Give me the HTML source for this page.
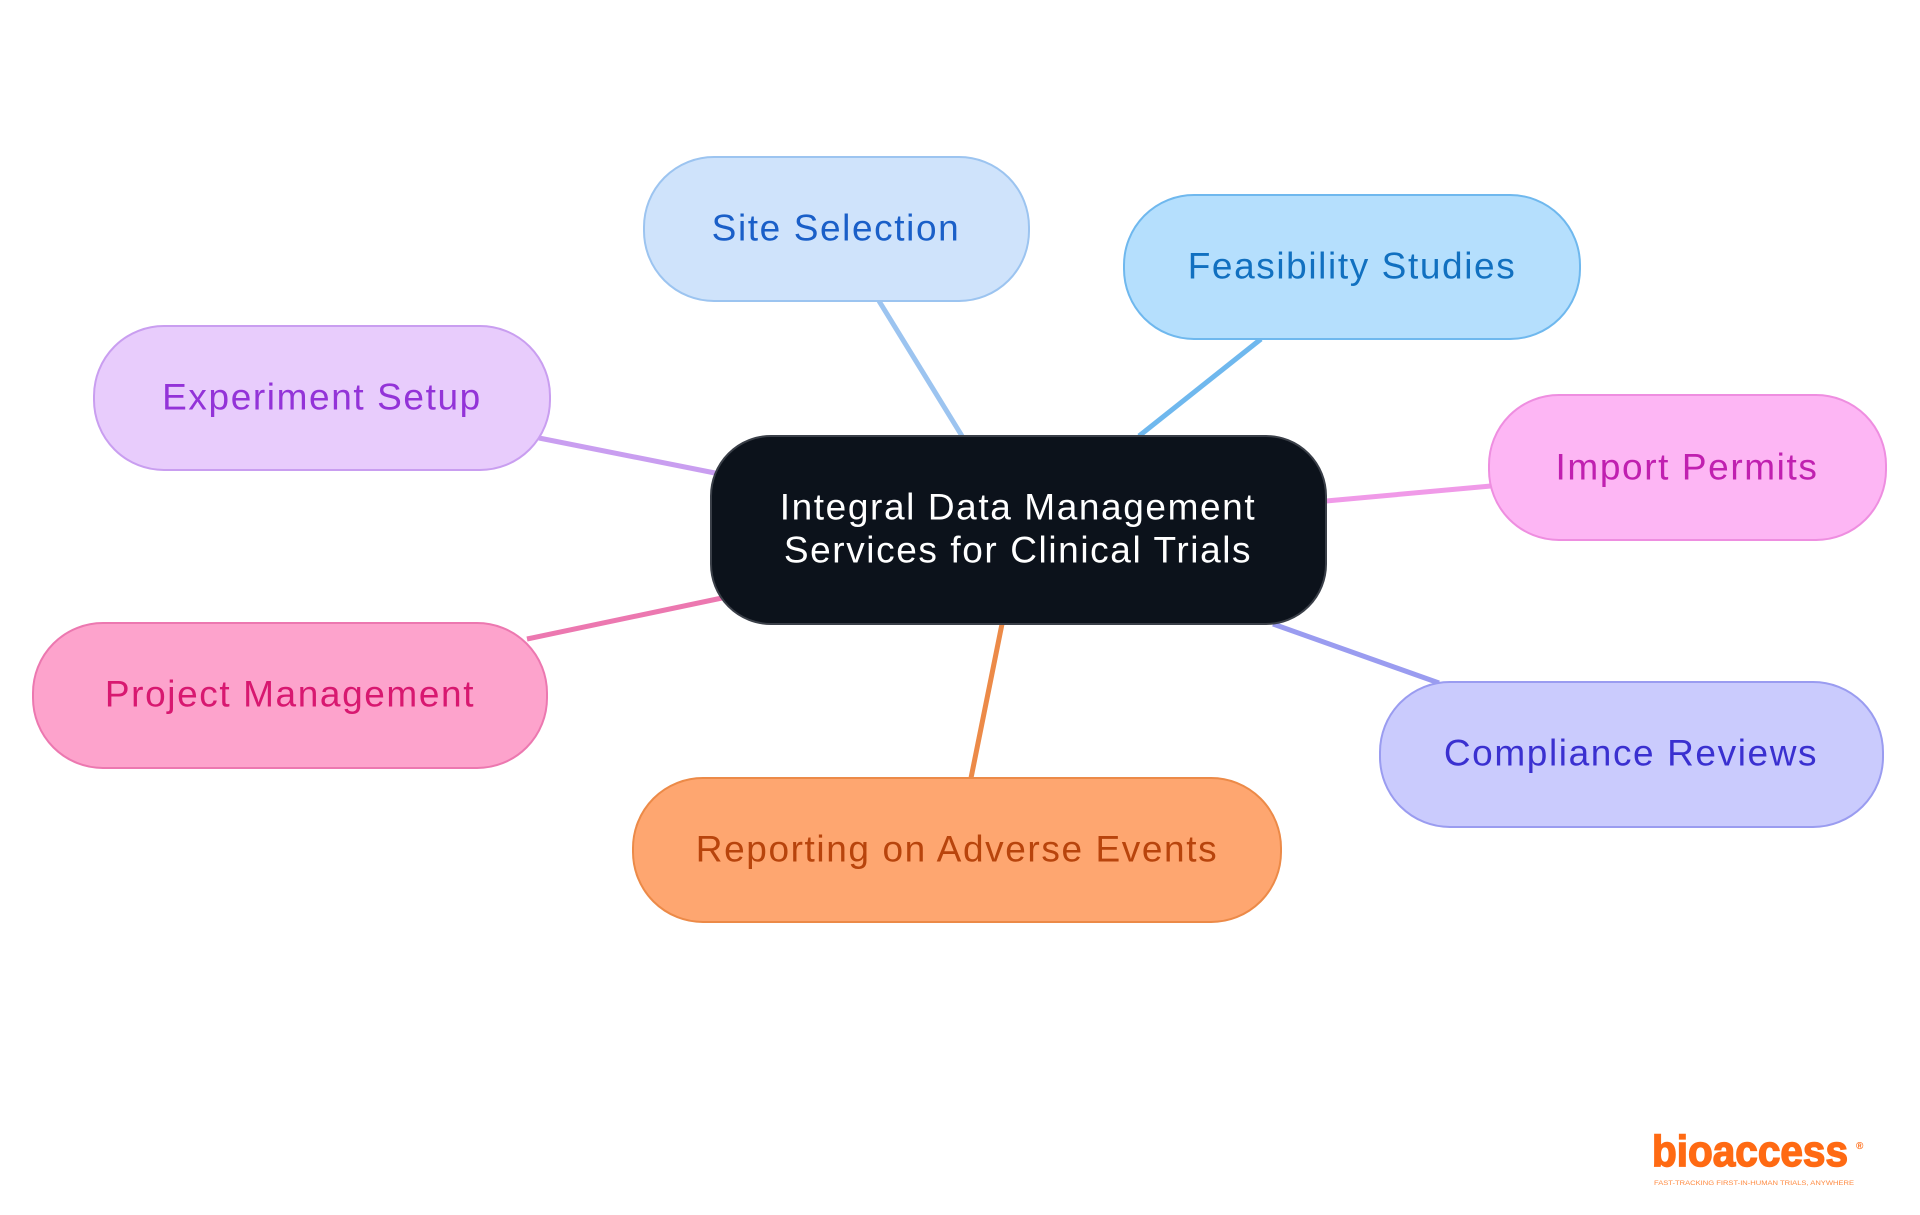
<!DOCTYPE html>
<html><head><meta charset="utf-8"><style>
html,body{margin:0;padding:0;background:#fff;width:1920px;height:1215px;overflow:hidden}
svg text{font-family:"Liberation Sans",sans-serif}
</style></head><body>
<svg width="1920" height="1215" viewBox="0 0 1920 1215" xmlns="http://www.w3.org/2000/svg">
<g stroke-width="5" fill="none">
<line x1="879" y1="301" x2="962" y2="436" stroke="#9cc4f0"/>
<line x1="1261" y1="339" x2="1139" y2="436" stroke="#6fb8ee"/>
<line x1="539" y1="438" x2="720" y2="474" stroke="#c99ef0"/>
<line x1="1326" y1="501" x2="1491" y2="486" stroke="#f09ae8"/>
<line x1="527" y1="639" x2="722" y2="598" stroke="#ec78b0"/>
<line x1="1273" y1="624" x2="1439" y2="683" stroke="#9a9cf0"/>
<line x1="1002" y1="624" x2="971" y2="778" stroke="#ec8a48"/>
</g>
<g stroke-width="2" font-size="37" text-anchor="middle" dominant-baseline="central" letter-spacing="1.6">
<rect x="711" y="436" width="615" height="188" rx="60" fill="#0c121b" stroke="#3a3f48"/>
<text x="1018" y="507" fill="#fff">Integral Data Management</text>
<text x="1018" y="550" fill="#fff">Services for Clinical Trials</text>

<rect x="644" y="157" width="385" height="144" rx="70" fill="#cfe3fb" stroke="#9cc4f0"/>
<text x="836" y="228" fill="#1a5fc8">Site Selection</text>
<rect x="1124" y="195" width="456" height="144" rx="70" fill="#b5dffd" stroke="#6fb8ee"/>
<text x="1352" y="266" fill="#1170c0">Feasibility Studies</text>
<rect x="94" y="326" width="456" height="144" rx="70" fill="#e8ccfc" stroke="#c99ef0"/>
<text x="322" y="397" fill="#9333d8">Experiment Setup</text>
<rect x="1489" y="395" width="397" height="145" rx="70" fill="#fdb6f4" stroke="#ee8ee0"/>
<text x="1687" y="467" fill="#c020b0">Import Permits</text>
<rect x="33" y="623" width="514" height="145" rx="70" fill="#fda3cc" stroke="#ec78b0"/>
<text x="290" y="694" fill="#d81870">Project Management</text>
<rect x="1380" y="682" width="503" height="145" rx="70" fill="#cacbfd" stroke="#9a9cf0"/>
<text x="1631" y="753" fill="#3a30d0">Compliance Reviews</text>
<rect x="633" y="778" width="648" height="144" rx="70" fill="#fea670" stroke="#ec8a48"/>
<text x="957" y="849" fill="#b8440c">Reporting on Adverse Events</text>
</g>
<text x="1652" y="1166" font-size="44" font-weight="bold" fill="#ff6a13" stroke="#ff6a13" stroke-width="1.5" textLength="196" lengthAdjust="spacingAndGlyphs">bioaccess</text>
<text x="1856" y="1149" font-size="10" font-weight="bold" fill="#ff6a13">®</text>
<text x="1654" y="1185" font-size="6" fill="#ff8a40" textLength="200" lengthAdjust="spacingAndGlyphs">FAST-TRACKING FIRST-IN-HUMAN TRIALS, ANYWHERE</text>
</svg>
</body></html>
